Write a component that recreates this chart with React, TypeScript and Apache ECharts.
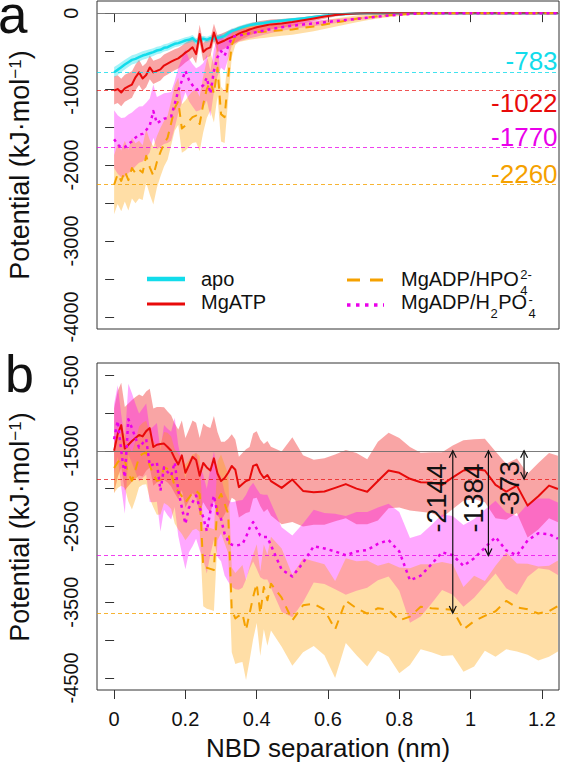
import React, { useEffect, useRef } from 'react';
import * as echarts from 'echarts';

// ---------- data ----------
const X = [0, 0.01, 0.02, 0.03, 0.04, 0.05, 0.06, 0.07, 0.08, 0.09, 0.1, 0.11, 0.12, 0.13, 0.14, 0.15, 0.16, 0.17, 0.18, 0.19, 0.2, 0.21, 0.22, 0.23, 0.24, 0.25, 0.26, 0.27, 0.28, 0.29, 0.3, 0.31, 0.32, 0.33, 0.34, 0.35, 0.36, 0.37, 0.38, 0.39, 0.4, 0.41, 0.42, 0.43, 0.44, 0.47, 0.5, 0.53, 0.56, 0.59, 0.62, 0.65, 0.68, 0.71, 0.74, 0.77, 0.8, 0.83, 0.86, 0.89, 0.92, 0.95, 0.98, 1.01, 1.04, 1.07, 1.1, 1.13, 1.16, 1.19, 1.22, 1.245];

// panel a
const APO_A = [-778, -747, -712, -677, -646, -615, -602, -580, -558, -545, -528, -514, -492, -483, -457, -448, -426, -404, -395, -378, -360, -351, -330, -372, -351, -338, -351, -330, -338, -325, -316, -299, -264, -237, -220, -202, -185, -171, -158, -149, -140, -136, -131, -123, -114, -100, -85, -70, -52, -35, -20, -10, -5, -2, 0, 0, 0, 0, 0, 0, 0, 0, 0, 0, 0, 0, 0, 0, 0, 0, 0, 0];
const APO_A_SD = [70, 68, 66, 64, 62, 60, 60, 58, 56, 55, 54, 52, 50, 50, 48, 48, 46, 45, 44, 44, 42, 42, 42, 42, 40, 40, 40, 40, 40, 38, 38, 36, 36, 34, 32, 32, 30, 30, 28, 28, 26, 26, 25, 25, 24, 22, 20, 18, 16, 14, 12, 10, 8, 5, 3, 0, 0, 0, 0, 0, 0, 0, 0, 0, 0, 0, 0, 0, 0, 0, 0, 0];
const ATP_A = [-1019, -1000, -1045, -990, -965, -940, -845, -780, -860, -815, -715, -780, -760, -740, -690, -665, -640, -615, -595, -560, -520, -490, -450, -540, -275, -510, -470, -450, -255, -400, -380, -360, -335, -315, -295, -270, -250, -235, -215, -200, -185, -175, -165, -155, -148, -135, -118, -95, -70, -45, -25, -12, -5, -2, 0, 0, 0, 0, 0, 0, 0, 0, 0, 0, 0, 0, 0, 0, 0, 0, 0, 0];
const ATP_A_SD = [185, 182, 180, 178, 176, 174, 170, 166, 162, 160, 156, 152, 150, 148, 146, 144, 140, 138, 135, 132, 130, 128, 126, 124, 122, 120, 118, 116, 114, 112, 110, 108, 104, 100, 96, 92, 88, 84, 80, 76, 72, 70, 68, 66, 64, 58, 50, 42, 35, 28, 20, 14, 8, 4, 0, 0, 0, 0, 0, 0, 0, 0, 0, 0, 0, 0, 0, 0, 0, 0, 0, 0];
const H2_A = [-1660, -1730, -1770, -1765, -1720, -1690, -1640, -1600, -1590, -1540, -1480, -1290, -1450, -1420, -1390, -1380, -1360, -1200, -1020, -890, -760, -880, -950, -1010, -990, -950, -850, -1060, -760, -580, -500, -560, -440, -320, -305, -295, -285, -275, -265, -258, -250, -240, -230, -220, -210, -185, -165, -150, -135, -120, -105, -90, -75, -60, -45, -32, -20, -10, -4, 0, 0, 0, 0, 0, 0, 0, 0, 0, 0, 0, 0, 0];
const H2_A_SD = [380, 385, 390, 390, 385, 380, 375, 370, 365, 360, 355, 350, 345, 340, 335, 330, 320, 310, 300, 290, 280, 280, 280, 285, 290, 295, 300, 300, 280, 250, 220, 200, 160, 110, 90, 80, 75, 70, 66, 62, 60, 58, 56, 54, 52, 48, 44, 40, 36, 32, 28, 24, 20, 16, 12, 8, 5, 3, 0, 0, 0, 0, 0, 0, 0, 0, 0, 0, 0, 0, 0, 0];
const HP_A = [-2260, -2120, -2210, -2080, -2200, -2040, -2110, -2060, -2100, -1880, -2030, -2140, -1960, -1830, -1720, -1640, -1450, -1250, -1160, -1520, -1480, -1420, -1370, -1350, -1460, -1200, -1000, -900, -1060, -720, -1330, -1370, -840, -420, -310, -280, -275, -270, -262, -255, -250, -248, -245, -240, -235, -225, -215, -195, -175, -150, -125, -100, -75, -55, -40, -28, -18, -10, -4, 0, 0, 0, 0, 0, 0, 0, 0, 0, 0, 0, 0, 0];
const HP_A_SD = [390, 395, 400, 400, 400, 400, 395, 380, 360, 350, 360, 380, 340, 320, 300, 290, 290, 300, 310, 320, 330, 340, 340, 350, 360, 370, 380, 380, 380, 370, 360, 340, 300, 160, 110, 100, 95, 90, 90, 88, 86, 84, 82, 80, 78, 74, 70, 66, 62, 58, 54, 50, 44, 38, 32, 26, 20, 14, 8, 0, 0, 0, 0, 0, 0, 0, 0, 0, 0, 0, 0, 0];

// panel b
const ATP_B = [-1500, -1280, -1160, -1470, -1420, -1370, -1330, -1290, -1310, -1240, -1200, -1450, -1420, -1410, -1405, -1450, -1500, -1600, -1680, -1560, -1790, -1690, -1580, -1620, -1830, -1660, -1720, -1760, -1600, -1800, -1900, -1860, -1790, -1700, -1750, -1980, -1940, -1900, -1880, -1700, -1680, -1790, -1860, -1820, -1900, -1990, -1880, -2030, -2048, -2038, -1990, -1940, -2000, -2040, -1900, -1760, -1790, -1870, -1915, -1920, -1950, -1850, -1760, -1741, -1760, -1950, -2040, -1960, -2224, -2100, -1960, -2004];
const ATP_B_SD = [560, 570, 560, 550, 545, 540, 540, 535, 530, 525, 520, 510, 500, 490, 480, 470, 470, 460, 460, 460, 460, 470, 480, 490, 500, 520, 540, 560, 560, 550, 520, 480, 450, 420, 400, 400, 410, 420, 430, 430, 440, 440, 450, 450, 455, 480, 560, 470, 430, 440, 440, 450, 470, 430, 520, 500, 460, 420, 390, 400, 430, 420, 400, 395, 420, 440, 370, 360, 420, 440, 430, 440];
const H2_B = [-1346, -1105, -1500, -1851, -1083, -1200, -1330, -1456, -1400, -1346, -1697, -1680, -1654, -2026, -1719, -1780, -1829, -1654, -2026, -2250, -2465, -2250, -2180, -2092, -2250, -2377, -2560, -2300, -2092, -2333, -2400, -2597, -2690, -2740, -2750, -2745, -2730, -2640, -2520, -2443, -2530, -2620, -2640, -2640, -2750, -3070, -3160, -2980, -2760, -2790, -2830, -2880, -2830, -2810, -2730, -2680, -2830, -3211, -3150, -3000, -2840, -2880, -3020, -2920, -2780, -2640, -2816, -2880, -2684, -2590, -2600, -2662];
const H2_B_SD = [460, 470, 480, 480, 470, 460, 450, 450, 460, 470, 480, 500, 520, 540, 560, 570, 580, 590, 600, 600, 600, 590, 580, 570, 560, 560, 560, 570, 580, 570, 560, 550, 540, 560, 580, 590, 580, 560, 540, 520, 530, 550, 560, 560, 560, 560, 540, 520, 480, 470, 500, 520, 520, 500, 480, 480, 520, 560, 540, 520, 500, 520, 540, 520, 500, 480, 500, 520, 480, 460, 470, 480];
const HP_B = [-1728, -1650, -1610, -1630, -1800, -1895, -1750, -1580, -1540, -1522, -1700, -1807, -1895, -1880, -1720, -1740, -1790, -1970, -2040, -2100, -2180, -2120, -2050, -2030, -2070, -3035, -3045, -3060, -3075, -2160, -2070, -2200, -2333, -3600, -3715, -3680, -3650, -3869, -3650, -3430, -3255, -3650, -3299, -3474, -3255, -3440, -3740, -3540, -3520, -3600, -3860, -3480, -3580, -3650, -3580, -3600, -3740, -3690, -3560, -3580, -3590, -3600, -3860, -3750, -3680, -3620, -3483, -3570, -3593, -3650, -3620, -3550];
const HP_B_SD = [330, 340, 350, 360, 370, 380, 390, 400, 410, 420, 430, 440, 450, 460, 470, 480, 480, 490, 500, 500, 500, 500, 500, 500, 500, 520, 540, 540, 540, 520, 520, 520, 520, 560, 600, 620, 640, 660, 620, 560, 520, 560, 560, 600, 620, 650, 600, 620, 560, 600, 640, 560, 620, 700, 560, 620, 700, 640, 560, 580, 620, 600, 560, 600, 460, 600, 640, 580, 600, 620, 600, 600];

// reference values
const MIN_A = [-783, -1022, -1770, -2260]; // apo, MgATP, H2PO4, HPO4
const BASE_B = -1500;
const DIFF_B = [-2144, -1384, -373]; // HPO4, H2PO4, MgATP
const ARROW_X = [0.95, 1.05, 1.15];

// axes
const XTICKS = [0, 0.2, 0.4, 0.6, 0.8, 1, 1.2];
const YTICKS_A = [0, -500, -1000, -1500, -2000, -2500, -3000, -3500, -4000];
const YLABELS_A = [0, -1000, -2000, -3000, -4000];
const YTICKS_B = [-500, -1000, -1500, -2000, -2500, -3000, -3500, -4000, -4500];
const YLABELS_B = [-500, -1500, -2500, -3500, -4500];

// ---------- styles ----------
const FONT = '"Liberation Sans", Arial, Helvetica, sans-serif';
const COL = { apo: '#12DCEB', atp: '#E80A0A', hp: '#F5A100', h2: '#EA00EA' };
const BAND = {
  apo: 'rgba(0,220,235,0.35)',
  atp: 'rgba(240,40,40,0.42)',
  hp: 'rgba(255,160,0,0.35)',
  h2: 'rgba(255,0,255,0.34)',
};
const REFC = {
  apo: 'rgba(18,220,235,0.8)',
  atp: 'rgba(232,10,10,0.7)',
  hp: 'rgba(245,161,0,0.8)',
  h2: 'rgba(234,0,234,0.75)',
};

function band(gi: number, mean: number[], sd: number[], fill: string, z: number) {
  return {
    type: 'custom',
    xAxisIndex: gi,
    yAxisIndex: gi,
    z,
    silent: true,
    data: [[X[0], mean[0]]],
    renderItem: (_p: any, api: any) => {
      const pts: number[][] = [];
      for (let k = 0; k < X.length; k++) pts.push(api.coord([X[k], mean[k] + sd[k]]));
      for (let k = X.length - 1; k >= 0; k--) pts.push(api.coord([X[k], mean[k] - sd[k]]));
      return { type: 'polygon', shape: { points: pts }, style: { fill, stroke: null } };
    },
  };
}

function line(gi: number, mean: number[], color: string, width: number, dash: any, z: number, refs?: any[]) {
  const s: any = {
    type: 'line',
    xAxisIndex: gi,
    yAxisIndex: gi,
    z,
    silent: true,
    symbol: 'none',
    showSymbol: false,
    data: X.map((x, k) => [x, mean[k]]),
    lineStyle: { color, width, type: dash, cap: 'butt', join: 'round' },
  };
  if (refs) {
    s.markLine = {
      silent: true,
      animation: false,
      symbol: ['none', 'none'],
      label: { show: false },
      emphasis: { disabled: true },
      data: refs.map((r) => ({ yAxis: r.v, lineStyle: { color: r.c, width: 1, type: r.t } })),
    };
  }
  return s;
}

function measure(text: string, size: number) {
  const ctx = document.createElement('canvas').getContext('2d')!;
  ctx.font = `${size}px "Liberation Sans", Arial, sans-serif`;
  return ctx.measureText(text).width;
}

function txt(x: number, y: number, text: string, size: number, fill: string, align = 'left', extra: any = {}) {
  return {
    type: 'text',
    x,
    y,
    silent: true,
    z: 100,
    ...extra,
    style: {
      text,
      fontSize: size,
      fontFamily: FONT,
      fill,
      align,
      textAlign: align,
      verticalAlign: 'middle',
      textVerticalAlign: 'middle',
      ...(extra.style || {}),
    },
  };
}

export default function App() {
  const ref = useRef<HTMLDivElement>(null);

  useEffect(() => {
    const chart = echarts.init(ref.current!, null, { renderer: 'svg' });

    const xAxis = [0, 1].map((i) => ({
      type: 'value',
      gridIndex: i,
      min: -0.048,
      max: 1.248,
      axisLine: { show: false },
      axisTick: { show: true, inside: false, length: 9, lineStyle: { color: '#333', width: 1 }, customValues: XTICKS },
      axisLabel: {
        show: i === 1,
        customValues: XTICKS,
        formatter: (v: number) => String(Math.round(v * 10) / 10),
        fontSize: 20,
        color: '#111',
        margin: 19,
        fontFamily: FONT,
      },
      splitLine: { show: false },
    }));

    const yAxis = [
      { gi: 0, min: -4160, max: 160, ticks: YTICKS_A, labels: YLABELS_A },
      { gi: 1, min: -4660, max: -340, ticks: YTICKS_B, labels: YLABELS_B },
    ].map((a) => ({
      type: 'value',
      gridIndex: a.gi,
      min: a.min,
      max: a.max,
      axisLine: { show: false },
      axisTick: { show: true, inside: false, length: 9, lineStyle: { color: '#333', width: 1 }, customValues: a.ticks },
      axisLabel: {
        show: true,
        customValues: a.labels,
        rotate: 90,
        formatter: (v: number) => String(v),
        fontSize: 20,
        color: '#111',
        margin: 16,
        fontFamily: FONT,
      },
      splitLine: { show: false },
    }));

    const gray = 'rgba(110,110,110,0.9)';
    const option: any = {
      animation: false,
      textStyle: { fontFamily: FONT },
      grid: [
        { left: 97, top: 1, width: 462, height: 328, show: true, borderColor: '#333', borderWidth: 1, backgroundColor: 'rgba(0,0,0,0)' },
        { left: 97, top: 363, width: 462, height: 327, show: true, borderColor: '#333', borderWidth: 1, backgroundColor: 'rgba(0,0,0,0)' },
      ],
      xAxis,
      yAxis,
      series: [
        // panel a bands
        band(0, ATP_A, ATP_A_SD, BAND.atp, 1),
        band(0, APO_A, APO_A_SD, BAND.apo, 1),
        band(0, H2_A, H2_A_SD, BAND.h2, 1),
        band(0, HP_A, HP_A_SD, BAND.hp, 1),
        // panel b bands
        band(1, ATP_B, ATP_B_SD, BAND.atp, 1),
        band(1, H2_B, H2_B_SD, BAND.h2, 1),
        band(1, HP_B, HP_B_SD, BAND.hp, 1),
        // panel a lines
        line(0, APO_A, COL.apo, 2.5, 'solid', 3, [
          { v: 0, c: gray, t: 'solid' },
          { v: MIN_A[0], c: REFC.apo, t: [4, 3] },
          { v: MIN_A[1], c: REFC.atp, t: [4, 3] },
          { v: MIN_A[2], c: REFC.h2, t: [4, 3] },
          { v: MIN_A[3], c: REFC.hp, t: [4, 3] },
        ]),
        line(0, ATP_A, COL.atp, 2, 'solid', 4),
        line(0, HP_A, COL.hp, 2, [9, 7], 5),
        line(0, H2_A, COL.h2, 2.5, [3, 4], 6),
        // panel b lines
        line(1, ATP_B, COL.atp, 2, 'solid', 4, [
          { v: BASE_B, c: gray, t: 'solid' },
          { v: BASE_B + DIFF_B[2], c: REFC.atp, t: [4, 3] },
          { v: BASE_B + DIFF_B[1], c: REFC.h2, t: [4, 3] },
          { v: BASE_B + DIFF_B[0], c: REFC.hp, t: [4, 3] },
        ]),
        line(1, HP_B, COL.hp, 2, [9, 7], 5),
        line(1, H2_B, COL.h2, 2.5, [3, 4], 6),
      ],
    };

    chart.setOption(option);

    const pa = (x: number, y: number) => chart.convertToPixel({ gridIndex: 0 }, [x, y]) as number[];
    const pb = (x: number, y: number) => chart.convertToPixel({ gridIndex: 1 }, [x, y]) as number[];

    const g: any[] = [];

    // panel letters
    g.push(txt(-2, 14, 'a', 53, '#111'));
    g.push(txt(5, 374, 'b', 52, '#111'));

    // axis titles
    const ytitle = (cy: number) =>
      txt(20, cy, 'Potential (kJ·mol{s|−1})', 27, '#111', 'center', {
        rotation: Math.PI / 2,
        style: { rich: { s: { fontSize: 17, fontFamily: FONT, fill: '#111', verticalAlign: 'top' } } },
      });
    g.push(ytitle(165));
    g.push(ytitle(527));
    g.push(txt(328, 748, 'NBD separation (nm)', 26, '#111', 'center'));

    // value labels of panel a
    const labelYA = [-634, -1177, -1627, -2116];
    const labelCol = [COL.apo, COL.atp, COL.h2, COL.hp];
    MIN_A.forEach((v, i) => {
      const [px, py] = pa(1.244, labelYA[i]);
      g.push(txt(px, py, String(v), 26, labelCol[i], 'right'));
    });

    // arrows of panel b
    const labelPosB = [
      [0.907, -2123],
      [1.009, -2123],
      [1.111, -1991],
    ];
    DIFF_B.forEach((d, i) => {
      const [x1, y1] = pb(ARROW_X[i], BASE_B);
      const [, y2] = pb(ARROW_X[i], BASE_B + d);
      const st = { stroke: '#111', lineWidth: 1.2, fill: null };
      g.push({ type: 'line', silent: true, z: 100, shape: { x1, y1, x2: x1, y2 }, style: st });
      g.push({ type: 'polyline', silent: true, z: 100, shape: { points: [[x1 - 3.5, y1 + 7], [x1, y1], [x1 + 3.5, y1 + 7]] }, style: st });
      g.push({ type: 'polyline', silent: true, z: 100, shape: { points: [[x1 - 3.5, y2 - 7], [x1, y2], [x1 + 3.5, y2 - 7]] }, style: st });
      const [lx, ly] = pb(labelPosB[i][0], labelPosB[i][1]);
      g.push(txt(lx, ly, String(d), 27, '#111', 'center', { rotation: Math.PI / 2 }));
    });

    // legend
    const LF = 20;
    const SF = 13;
    g.push({ type: 'line', silent: true, z: 100, shape: { x1: 147, y1: 279, x2: 185, y2: 279 }, style: { stroke: COL.apo, lineWidth: 4.5 } });
    g.push({ type: 'line', silent: true, z: 100, shape: { x1: 147, y1: 304, x2: 185, y2: 304 }, style: { stroke: COL.atp, lineWidth: 3.2 } });
    g.push(txt(201, 279, 'apo', LF, '#111'));
    g.push(txt(201, 302, 'MgATP', LF, '#111'));
    g.push({ type: 'line', silent: true, z: 100, shape: { x1: 347, y1: 280, x2: 384, y2: 280 }, style: { stroke: COL.hp, lineWidth: 3.2, lineDash: [13, 10] } });
    g.push({ type: 'line', silent: true, z: 100, shape: { x1: 347, y1: 305, x2: 384, y2: 305 }, style: { stroke: COL.h2, lineWidth: 3.5, lineDash: [3.5, 5.5] } });
    const lx0 = 401;
    const w1 = measure('MgADP/HPO', LF);
    g.push(txt(lx0, 279, 'MgADP/HPO', LF, '#111'));
    g.push(txt(lx0 + w1 + 1.5, 290, '4', SF, '#111'));
    g.push(txt(lx0 + w1 + 1.5, 274, '2-', SF, '#111'));
    const w2 = measure('MgADP/H', LF);
    const w3 = measure('2', SF);
    const w4 = measure('PO', LF);
    g.push(txt(lx0, 302, 'MgADP/H', LF, '#111'));
    g.push(txt(lx0 + w2 + 0.5, 313, '2', SF, '#111'));
    g.push(txt(lx0 + w2 + w3 + 1, 302, 'PO', LF, '#111'));
    g.push(txt(lx0 + w2 + w3 + w4 + 2.5, 313, '4', SF, '#111'));
    g.push(txt(lx0 + w2 + w3 + w4 + 2.5, 299, '-', SF, '#111'));

    chart.setOption({ graphic: g });

    return () => chart.dispose();
  }, []);

  return <div ref={ref} style={{ position: 'absolute', left: 0, top: 0, width: 561, height: 773, background: '#fff' }} />;
}
